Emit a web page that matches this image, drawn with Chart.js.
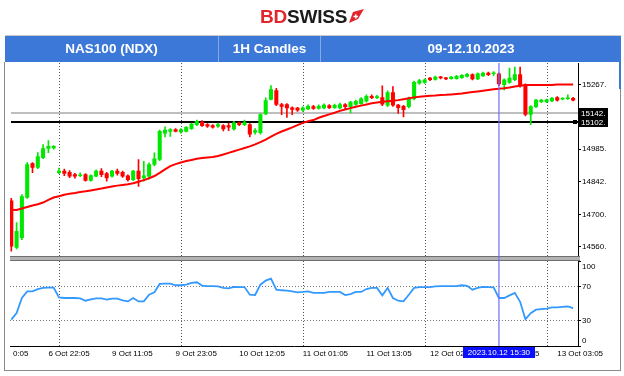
<!DOCTYPE html>
<html>
<head>
<meta charset="utf-8">
<script src="https://cdn.jsdelivr.net/npm/chart.js@4.4.0/dist/chart.umd.min.js"></script>
<style>
  body { margin: 0; background: #fff; font-family: "Liberation Sans", Arial, sans-serif; }
  #wrap { position: relative; width: 624px; height: 376px; overflow: hidden; }
  #chart { position: absolute; left: 0; top: 0; }
  .logo { position: absolute; left: 260px; top: 7px; font-weight: bold; font-size: 19px; line-height: 19px; white-space: nowrap; letter-spacing: -0.2px; }
  .logo svg { position: absolute; left: 89px; top: 2px; }
  .bar { position: absolute; left: 5px; top: 35px; width: 616px; height: 27px; background: #3b78d8; border-top: 1px solid #c9c9c9; box-sizing: border-box; }
  .cell { position: absolute; top: 0; height: 26px; line-height: 26px; text-align: center; color: #fff; font-weight: bold; font-size: 13.5px; box-sizing: border-box; }
  .cell + .cell { border-left: 1px solid #86a9e6; }
  .frame { position: absolute; left: 4px; top: 62px; width: 617px; height: 309px; border: 1px solid #8a8a8a; border-top: none; box-sizing: border-box; }
  .edge { position: absolute; left: 619px; top: 62px; width: 2px; height: 27px; background: #3b78d8; }
</style>
</head>
<body>
<div id="wrap">
  <canvas id="chart" width="624" height="376"></canvas>
  <div class="logo"><span style="color:#e3262e">BD</span><span style="color:#1b1b1b">SWISS</span><svg width="15" height="14" viewBox="0 0 15 14"><polygon points="0,14 4,3 15,0 9,10" fill="#e3262e"/><path d="M4.5 7.5h4.5M6.8 5.2v4.6" stroke="#fff" stroke-width="1.3"/></svg></div>
  <div class="bar">
    <div class="cell" style="left:0;width:213px">NAS100 (NDX)</div>
    <div class="cell" style="left:213px;width:102px">1H Candles</div>
    <div class="cell" style="left:315px;width:301px">09-12.10.2023</div>
  </div>
  <div class="frame"></div>
  <div class="edge"></div>
</div>
<script>
// hourly candles, 6 Oct 10:00 .. 13 Oct 05:00 (index = candle number)
const opens = [14760,14556,14599,14774,14922,14905,14948,14988,14990,14882,
  14889,14884,14874,14869,14874,14849,14867,14889,14879,14867,
  14889,14884,14869,14852,14889,14860,14867,14918,14940,15055,
  15063,15071,15060,15063,15075,15092,15103,15092,15088,15085,
  15088,15088,15073,15100,15092,15092,15059,15057,15139,15202,
  15241,15180,15180,15165,15164,15155,15161,15171,15163,15165,
  15175,15166,15165,15180,15170,15180,15184,15194,15216,15210,
  15210,15177,15232,15177,15172,15170,15205,15273,15276,15295,
  15289,15300,15296,15293,15293,15297,15302,15310,15291,15305,
  15317,15314,15314,15266,15276,15288,15310,15266,15137,15171,
  15192,15192,15196,15210,15203,15205,15207];
const highs = [14770,14665,14787,14927,14927,14970,15005,15022,15001,14903,
  14898,14892,14880,14882,14878,14873,14895,14900,14884,14893,
  14898,14889,14873,14893,14940,14932,14925,14969,15068,15082,
  15075,15075,15075,15084,15099,15112,15110,15097,15092,15099,
  15092,15099,15107,15103,15112,15097,15075,15140,15209,15262,
  15250,15185,15184,15170,15168,15170,15178,15176,15178,15183,
  15180,15182,15186,15184,15194,15199,15210,15222,15222,15220,
  15261,15240,15258,15181,15176,15212,15282,15290,15292,15299,
  15304,15303,15299,15303,15307,15311,15316,15314,15318,15321,
  15321,15324,15318,15292,15339,15343,15343,15270,15175,15203,
  15203,15204,15211,15214,15210,15222,15211];
const lows = [14540,14550,14590,14770,14883,14900,14944,14970,14985,14878,
  14869,14861,14858,14865,14845,14845,14865,14865,14845,14863,
  14872,14862,14845,14848,14823,14845,14855,14912,14935,15039,
  15041,15060,15055,15060,15071,15088,15084,15080,15077,15080,
  15065,15066,15068,15088,15088,15038,15051,15050,15136,15200,
  15175,15136,15124,15136,15150,15150,15157,15159,15160,15161,
  15162,15163,15161,15160,15143,15176,15180,15190,15205,15205,
  15175,15170,15172,15141,15126,15165,15200,15268,15272,15284,
  15286,15292,15288,15290,15290,15294,15299,15287,15288,15302,
  15306,15306,15262,15244,15272,15284,15256,15130,15092,15166,
  15188,15188,15192,15195,15200,15202,15196];
const closes = [14562,14627,14778,14918,14905,14953,14988,14997,14997,14889,
  14879,14867,14867,14873,14849,14870,14889,14874,14860,14889,
  14879,14867,14852,14889,14856,14869,14918,14943,15063,15068,
  15071,15063,15071,15080,15095,15107,15088,15085,15081,15092,
  15073,15081,15100,15092,15101,15051,15066,15136,15197,15245,
  15180,15172,15165,15158,15155,15165,15172,15163,15172,15177,
  15166,15176,15180,15170,15190,15194,15205,15216,15210,15215,
  15181,15232,15177,15166,15157,15207,15277,15284,15288,15288,
  15300,15296,15292,15300,15303,15307,15312,15291,15314,15317,
  15310,15317,15270,15288,15295,15310,15261,15137,15171,15199,
  15199,15200,15207,15199,15207,15208,15199];
const maValues = [14721,14720,14726,14733,14739,14745,14752,14764,14774,14780,
  14786,14791,14794,14798,14801,14805,14809,14813,14818,14822,
  14826,14829,14832,14836,14843,14850,14858,14868,14882,14897,
  14911,14920,14927,14933,14938,14943,14946,14949,14951,14955,
  14962,14969,14976,14983,14990,14997,15006,15016,15027,15040,
  15052,15062,15071,15080,15090,15100,15107,15112,15122,15130,
  15137,15144,15152,15158,15164,15170,15175,15180,15185,15189,
  15192,15194,15196,15199,15203,15207,15211,15214,15216,15218,
  15219,15221,15222,15224,15226,15228,15231,15234,15237,15240,
  15243,15246,15249,15251,15254,15258,15262,15265,15265,15265,
  15265,15265,15265,15267,15267,15267,15267];
const rsiValues = [31,38.7,56.5,64.3,64.3,67,68.4,68.6,68.6,57.2,
  56.5,56.5,56.5,56,53.3,55,56,56,54.5,55.8,
  55.8,53.7,52.5,56.5,52.5,52.5,60.4,63.2,73.1,73.4,
  73.4,71.5,71.5,72.2,74.3,75,71.1,70.5,70.5,70.1,
  68.4,67.8,69.7,69.4,69.4,60.4,60,72.2,77,79.4,
  66.3,65.6,65.3,64.3,63.2,63.6,64.3,62.5,62.5,62.5,
  63.6,63.6,63.6,60,61.2,63.6,63.6,67,68.4,68.4,
  59.6,68.4,56.5,53.3,52.5,60.4,68.4,69.4,69.4,69.4,
  70.1,70.5,70.5,70.5,70.5,71.5,70.9,66.3,68.4,69.7,
  69.4,69,56.5,56.5,59.6,62.5,52,31.5,38.7,42.7,
  43.4,43.9,45.4,45.4,46.1,46.5,44.6];

const priceTicks = [15267, 14985, 14842, 14700, 14560];
const rsiTicks = [100, 70, 30, 0];
const levels = [15142, 15102];
const timeTickPos = [0.3, 7, 19, 31, 43, 55, 67, 79, 91, 103];
const timeTickLabels = ['0:05', '6 Oct 22:05', '9 Oct 11:05', '9 Oct 23:05', '10 Oct 12:05',
  '11 Oct 01:05', '11 Oct 13:05', '12 Oct 02:05', '12 Oct 14:05', '13 Oct 03:05'];
const dayStarts = [9, 32, 55, 78, 101];
const cursorIndex = 92;
const cursorLabel = '2023.10.12 15:30';

const FONT = '"Liberation Sans", Arial, sans-serif';
Chart.defaults.font.family = FONT;
Chart.defaults.font.size = 8;
Chart.defaults.color = '#000';

const candleColors = opens.map((o, i) => closes[i] >= o ? '#00e800' : '#ff0000');
const bodies = opens.map((o, i) => ({ x: i, y: [o, closes[i]] }));
const wicks = opens.map((o, i) => ({ x: i, y: [lows[i], highs[i]] }));

const paneDecor = {
  id: 'paneDecor',
  beforeDatasetsDraw(chart) {
    const { ctx, chartArea: area, scales } = chart;
    ctx.save();
    ctx.strokeStyle = '#555';
    ctx.lineWidth = 1;
    ctx.setLineDash([1, 2]);
    dayStarts.forEach(d => {
      const px = Math.round(scales.x.getPixelForValue(d)) + 0.5;
      ctx.beginPath();
      ctx.moveTo(px, area.top);
      ctx.lineTo(px, area.bottom);
      ctx.stroke();
    });
    ctx.setLineDash([]);
    levels.forEach((lv, k) => {
      const py = Math.round(scales.y.getPixelForValue(lv));
      ctx.strokeStyle = k === 0 ? '#a8a8a8' : '#000';
      ctx.lineWidth = k === 0 ? 1.5 : 2;
      ctx.beginPath();
      ctx.moveTo(area.left + 1, py);
      ctx.lineTo(area.right, py);
      ctx.stroke();
    });
    ctx.restore();
  },
  afterDatasetsDraw(chart) {
    const { ctx, chartArea: area, scales } = chart;
    const { x, y, rsi } = scales;
    ctx.save();
    // band between the two panes
    const sep = y.bottom;
    const bw = area.right - area.left + 2;
    ctx.fillStyle = '#b3b3b3';
    ctx.fillRect(area.left, sep - 2.5, bw, 5);
    ctx.fillStyle = '#6e6e6e';
    ctx.fillRect(area.left, sep - 2.5, bw, 1);
    ctx.fillRect(area.left, sep + 1.5, bw, 1);

    const cx = x.getPixelForValue(cursorIndex);
    ctx.strokeStyle = 'rgba(110,110,255,0.8)';
    ctx.lineWidth = 1.5;
    ctx.beginPath();
    ctx.moveTo(cx, area.top);
    ctx.lineTo(cx, area.bottom);
    ctx.stroke();

    ctx.font = '8px ' + FONT;
    ctx.textBaseline = 'middle';
    ctx.textAlign = 'left';
    levels.forEach(lv => {
      const py = y.getPixelForValue(lv);
      ctx.fillStyle = '#000';
      ctx.fillRect(area.right + 1, Math.round(py) - 5, 29, 10);
      ctx.fillStyle = '#fff';
      ctx.fillText(lv + '.', area.right + 3, Math.round(py) + 0.5);
    });
    const by = Math.round(y.getPixelForValue(levels[1]));
    ctx.fillStyle = '#000';
    ctx.fillRect(area.right - 5, by - 2, 4, 4);

    ctx.fillStyle = '#000';
    rsiTicks.forEach(v => {
      const py = Math.min(Math.max(rsi.getPixelForValue(v), rsi.top + 8.5), rsi.bottom - 5);
      ctx.fillText(String(v), area.right + 4, py);
    });

    const w = ctx.measureText(cursorLabel).width + 10;
    ctx.fillStyle = '#0a10ff';
    ctx.fillRect(Math.round(cx - w / 2), area.bottom + 1, Math.round(w), 11);
    ctx.fillStyle = '#fff';
    ctx.textAlign = 'center';
    ctx.fillText(cursorLabel, cx, area.bottom + 7);
    ctx.restore();
  }
};

new Chart(document.getElementById('chart'), {
  type: 'bar',
  data: {
    datasets: [
      { type: 'line', data: maValues.map((v, i) => ({ x: i, y: v })), yAxisID: 'y',
        borderColor: '#ff0000', borderWidth: 2, pointRadius: 0, order: 0 },
      { data: bodies, yAxisID: 'y', backgroundColor: candleColors, barThickness: 3.4,
        minBarLength: 1, grouped: false, order: 1 },
      { data: wicks, yAxisID: 'y', backgroundColor: candleColors, barThickness: 1,
        grouped: false, order: 2 },
      { type: 'line', data: rsiValues.map((v, i) => ({ x: i, y: v })), yAxisID: 'rsi',
        borderColor: '#3399ff', borderWidth: 1.8, pointRadius: 0, order: 0 }
    ]
  },
  options: {
    responsive: false,
    animation: false,
    devicePixelRatio: 1,
    layout: { padding: { top: 63, left: 10, right: 0, bottom: 0 } },
    plugins: { legend: { display: false }, tooltip: { enabled: false } },
    scales: {
      x: {
        type: 'linear', min: -0.245, max: 106.92, offset: false,
        afterFit: s => { s.height = 30; },
        afterBuildTicks: s => { s.ticks = timeTickPos.map(v => ({ value: v })); },
        ticks: { align: 'start', padding: 3, autoSkip: false, maxRotation: 0, minRotation: 0,
          callback: (v, i) => timeTickLabels[i] },
        grid: { display: false, drawTicks: false },
        border: { color: '#000' }
      },
      y: {
        type: 'linear', position: 'right', stack: 'panes', stackWeight: 195.5,
        min: 14508, max: 15361,
        afterFit: s => { s.width = 46; },
        afterBuildTicks: s => { s.ticks = priceTicks.map(v => ({ value: v })); },
        ticks: { padding: 1, callback: v => v + '.' },
        grid: { drawOnChartArea: false, tickLength: 3, color: '#000' },
        border: { color: '#000' }
      },
      rsi: {
        type: 'linear', position: 'right', stack: 'panes', stackWeight: 87.5,
        min: 0, max: 103,
        afterFit: s => { s.width = 46; },
        afterBuildTicks: s => { s.ticks = rsiTicks.map(v => ({ value: v })); },
        ticks: { display: false },
        grid: {
          tickLength: 3, tickColor: '#000',
          color: c => (c.tick && (c.tick.value === 30 || c.tick.value === 70)) ? '#7a7a7a' : 'rgba(0,0,0,0)'
        },
        border: { color: '#000', dash: [1, 2] }
      }
    }
  },
  plugins: [paneDecor]
});
</script>
</body>
</html>
